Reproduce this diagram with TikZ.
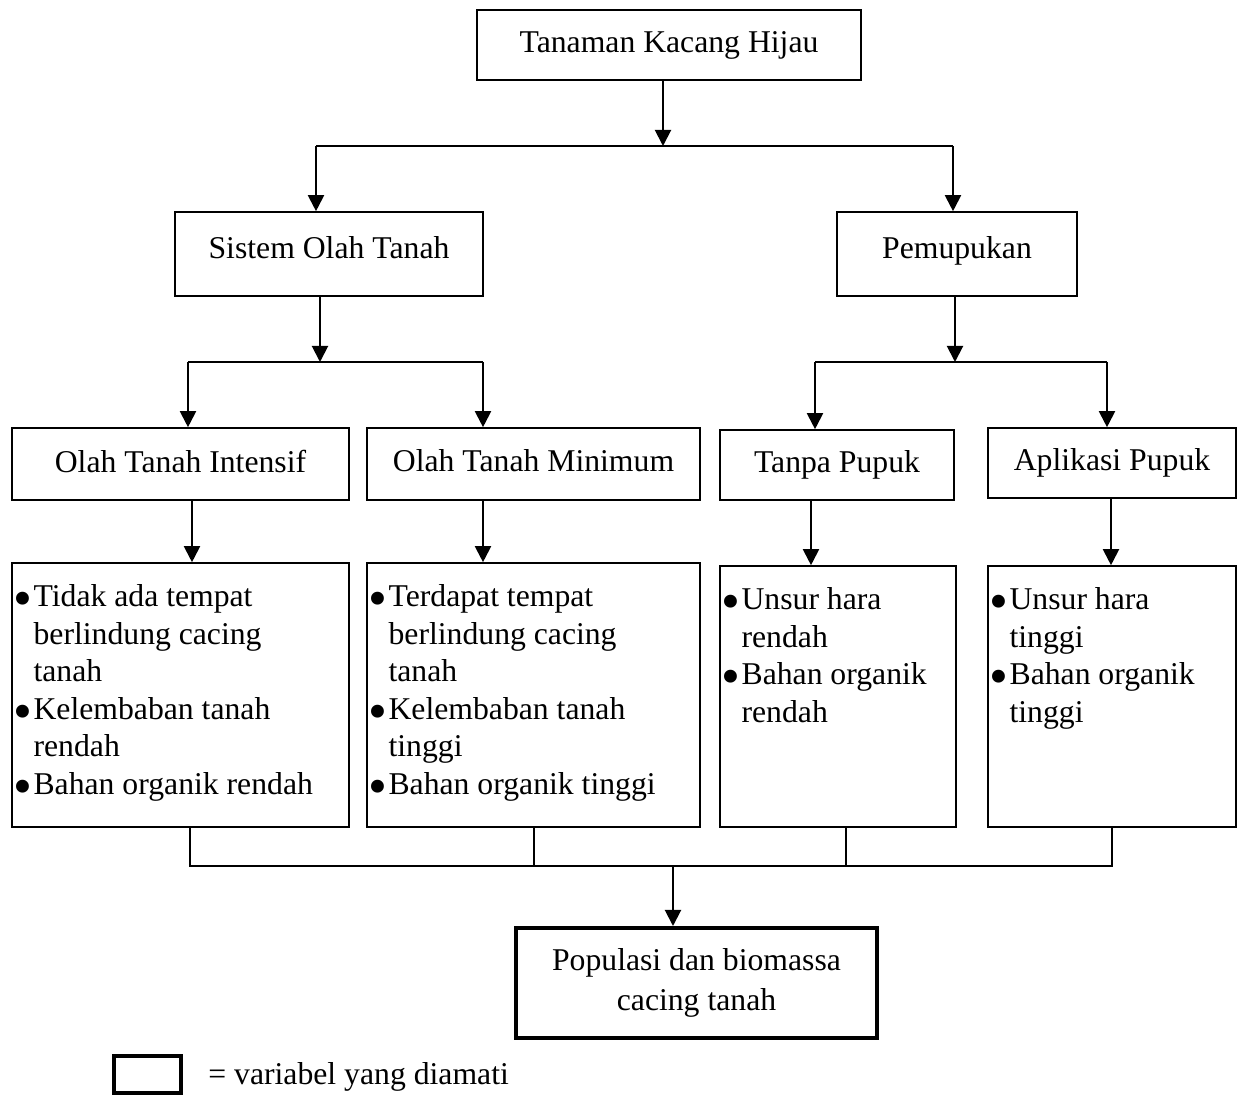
\documentclass[tikz,border=0pt]{standalone}
\usepackage{fontspec}
\usepackage{graphicx}
\setmainfont{Liberation Serif}
\usetikzlibrary{arrows.meta}

\newcommand{\itm}[1]{\makebox[10pt][l]{\raisebox{-0.32em}{\scalebox{1.7}{\textbullet}}}#1}
\newcommand{\cnt}[1]{\hspace*{10pt}#1}

\tikzset{
  box/.style={draw, line width=0.8pt, inner sep=0pt, align=center,
    font=\fontsize{15.85}{18.75}\selectfont},
  mainbox/.style={box, line width=2pt, font=\fontsize{15.85}{20}\selectfont},
  listtext/.style={inner sep=0pt, align=left, font=\fontsize{15.85}{18.75}\selectfont},
  arr/.style={line width=1pt, -{Triangle[width=8pt,length=8pt]}},
  ln/.style={line width=1pt}
}

\begin{document}
\begin{tikzpicture}[x=0.5pt, y=-0.5pt]
\useasboundingbox (0,0) rectangle (1238,1095);

% level 1
\node[box, minimum width=192pt, minimum height=35pt] (tanaman) at (669,45) {Tanaman Kacang Hijau};

% level 2
\node[box, text depth=0.6em, minimum width=154pt, minimum height=42pt] (sistem) at (329,254) {Sistem Olah Tanah};
\node[box, text depth=0.6em, minimum width=120pt, minimum height=42pt] (pupuk) at (957,254) {Pemupukan};

% level 3
\node[box, text depth=0.3em, minimum width=168.5pt, minimum height=36pt] (intensif) at (180.5,464) {Olah Tanah Intensif};
\node[box, text depth=0.3em, minimum width=166.5pt, minimum height=36pt] (minimum) at (533.5,464) {Olah Tanah Minimum};
\node[box, text depth=0.3em, minimum width=117pt, minimum height=35pt] (tanpa) at (837,465) {Tanpa Pupuk};
\node[box, text depth=0.3em, minimum width=124pt, minimum height=35pt] (aplikasi) at (1112,463) {Aplikasi Pupuk};

% level 4
\node[box, minimum width=168.5pt, minimum height=132pt] (ciri1) at (180.5,695) {};
\node[box, minimum width=166.5pt, minimum height=132pt] (ciri2) at (533.5,695) {};
\node[box, minimum width=118pt, minimum height=130.5pt] (ciri3) at (838,696.5) {};
\node[box, minimum width=124pt, minimum height=130.5pt] (ciri4) at (1112,696.5) {};

\node[listtext, anchor=north west] (ciri1t) at ([xshift=1pt,yshift=-11pt]ciri1.north west)
  {\itm{Tidak ada tempat}\\ \cnt{berlindung cacing}\\ \cnt{tanah}\\
   \itm{Kelembaban tanah}\\ \cnt{rendah}\\ \itm{Bahan organik rendah}};
\node[listtext, anchor=north west] (ciri2t) at ([xshift=1pt,yshift=-11pt]ciri2.north west)
  {\itm{Terdapat tempat}\\ \cnt{berlindung cacing}\\ \cnt{tanah}\\
   \itm{Kelembaban tanah}\\ \cnt{tinggi}\\ \itm{Bahan organik tinggi}};
\node[listtext, anchor=north west] (ciri3t) at ([xshift=1pt,yshift=-11pt]ciri3.north west)
  {\itm{Unsur hara}\\ \cnt{rendah}\\ \itm{Bahan organik}\\ \cnt{rendah}};
\node[listtext, anchor=north west] (ciri4t) at ([xshift=1pt,yshift=-11pt]ciri4.north west)
  {\itm{Unsur hara}\\ \cnt{tinggi}\\ \itm{Bahan organik}\\ \cnt{tinggi}};

% result
\node[mainbox, minimum width=180.5pt, minimum height=55pt] (hasil) at (696.5,983)
  {Populasi dan biomassa\\ cacing tanah};

% legend
\node[draw, line width=2pt, inner sep=0pt, minimum width=33.5pt, minimum height=18.5pt] (kotak) at (147.5,1075) {};
\node[listtext, anchor=base west] (ket) at (208,1085) {= variabel yang diamati};

% connectors
\coordinate (j1) at (663,146);
\coordinate (j1l) at (316,146);
\coordinate (j1r) at (953,146);
\draw[arr] (j1 |- tanaman.south) -- (j1);
\draw[ln] (j1l) -- (j1r);
\draw[arr] (j1l) -- (j1l |- sistem.north);
\draw[arr] (j1r) -- (j1r |- pupuk.north);

\coordinate (j2) at (320,362);
\coordinate (j2l) at (188,362);
\coordinate (j2r) at (483,362);
\draw[arr] (j2 |- sistem.south) -- (j2);
\draw[ln] (j2l) -- (j2r);
\draw[arr] (j2l) -- (j2l |- intensif.north);
\draw[arr] (j2r) -- (j2r |- minimum.north);

\coordinate (j3) at (955,362);
\coordinate (j3l) at (815,362);
\coordinate (j3r) at (1107,362);
\draw[arr] (j3 |- pupuk.south) -- (j3);
\draw[ln] (j3l) -- (j3r);
\draw[arr] (j3l) -- (j3l |- tanpa.north);
\draw[arr] (j3r) -- (j3r |- aplikasi.north);

\draw[arr] (192,0 |- intensif.south) -- (192,0 |- ciri1.north);
\draw[arr] (483,0 |- minimum.south) -- (483,0 |- ciri2.north);
\draw[arr] (811,0 |- tanpa.south) -- (811,0 |- ciri3.north);
\draw[arr] (1111,0 |- aplikasi.south) -- (1111,0 |- ciri4.north);

\coordinate (k1) at (190,866);
\coordinate (k2) at (534,866);
\coordinate (k3) at (846,866);
\coordinate (k4) at (1112,866);
\coordinate (k0) at (673,866);
\draw[ln] (k1 |- ciri1.south) -- (k1) -- (k4) -- (k4 |- ciri4.south);
\draw[ln] (k2 |- ciri2.south) -- (k2);
\draw[ln] (k3 |- ciri3.south) -- (k3);
\draw[arr] (k0) -- (k0 |- hasil.north);
\end{tikzpicture}
\end{document}
